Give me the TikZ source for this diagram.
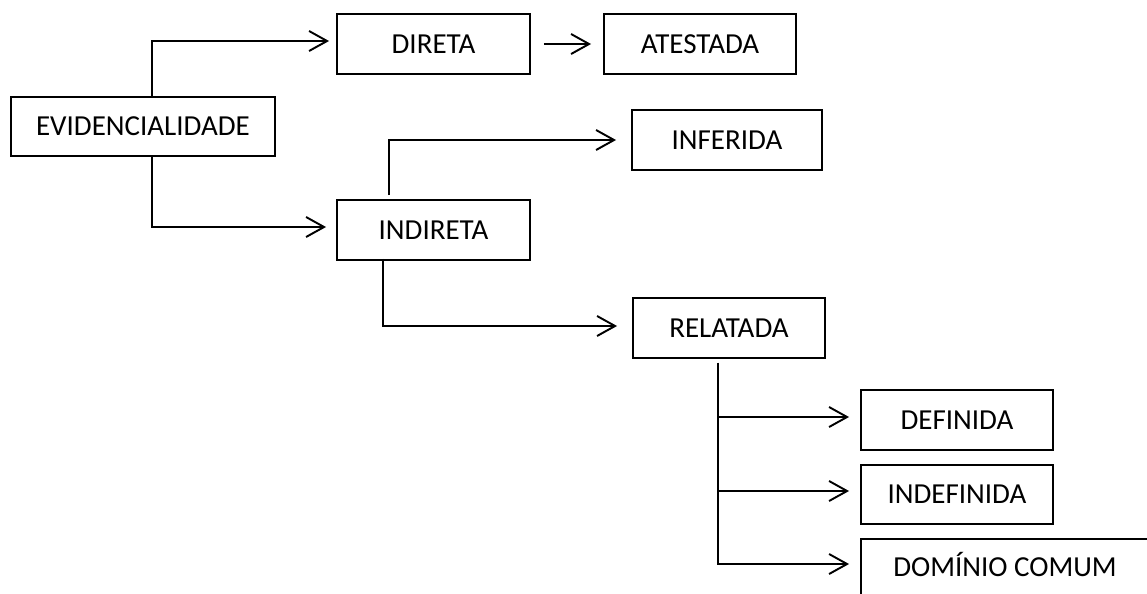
\documentclass[tikz,border=0pt]{standalone}
\usepackage{fontspec}
\setmainfont{Carlito}
\usetikzlibrary{arrows.meta}
\begin{document}
\begin{tikzpicture}[x=0.02cm,y=-0.02cm,
  box/.style={draw, line width=1.1pt, minimum height=1.2cm, inner sep=0pt,
    text height=10.6pt, text depth=0pt, font=\fontsize{16.5}{19}\selectfont},
  link/.style={line width=1.1pt, -{Straight Barb[length=3.6mm,width=4mm]}}]
\clip (0,0) rectangle (1147,593);
% boxes
\node[box, minimum width=5.28cm, minimum height=1.18cm] (evid) at (143,126.5) {EVIDENCIALIDADE};
\node[box, minimum width=3.86cm] (direta) at (433.5,44) {DIRETA};
\node[box, minimum width=3.84cm] (atestada) at (700,44) {ATESTADA};
\node[box, minimum width=3.8cm] (inferida) at (727,140) {INFERIDA};
\node[box, minimum width=3.86cm] (indireta) at (433.5,230) {INDIRETA};
\node[box, minimum width=3.84cm] (relatada) at (729,328) {RELATADA};
\node[box, minimum width=3.84cm] (definida) at (957,420) {DEFINIDA};
\node[box, minimum width=3.84cm, minimum height=1.18cm] (indefinida) at (957,494.5) {INDEFINIDA};
\node[box, minimum width=5.76cm, minimum height=1.12cm] (dominio) at (1005,567) {DOMÍNIO COMUM};
% connectors
\draw[link, shorten >=0.14cm] ([xshift=0.18cm]evid.north) |- ([yshift=0.06cm]direta.west);
\draw[link, shorten >=0.2cm] ([xshift=0.18cm]evid.south) |- ([yshift=0.06cm]indireta.west);
\draw[link, shorten <=0.26cm, shorten >=0.24cm] (direta.east) -- (atestada.west);
\draw[link, shorten >=0.3cm] ([xshift=-0.89cm,yshift=0.08cm]indireta.north) |- (inferida.west);
\draw[link, shorten >=0.3cm] ([xshift=-1.01cm,yshift=0.04cm]indireta.south) |- ([yshift=0.04cm]relatada.west);
\coordinate (split) at ([xshift=-0.22cm,yshift=-0.08cm]relatada.south);
\foreach \t/\dy in {definida/0.06cm,indefinida/0.07cm,dominio/0.06cm}
  \draw[link, shorten >=0.22cm] (split) |- ([yshift=\dy]\t.west);
\end{tikzpicture}
\end{document}
